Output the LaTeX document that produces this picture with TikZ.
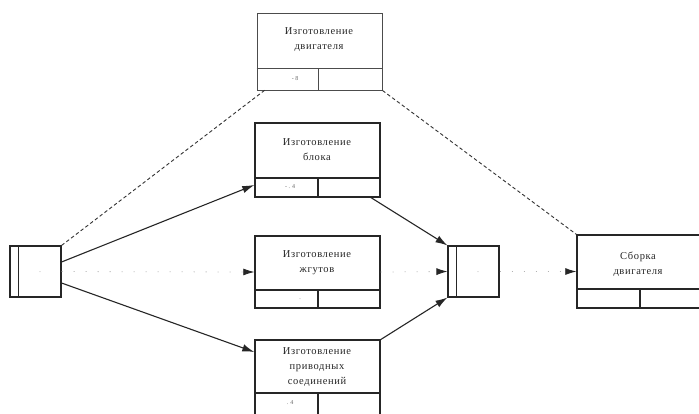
\documentclass[tikz,border=0pt]{standalone}
\usepackage{fontspec}
\setmainfont{Liberation Serif}
\usetikzlibrary{arrows.meta,calc}
\tikzset{
  taskbox/.style={draw=black!85, line width=1.4pt, inner sep=0pt, minimum width=125pt},
  eventbox/.style={draw=black!85, line width=1.1pt, inner sep=0pt, minimum width=51pt, minimum height=51pt},
  tasktext/.style={font=\fontsize{10.5}{15}\selectfont\addfontfeatures{LetterSpace=6}, text=black!85, align=center, inner sep=0pt},
  smalltext/.style={font=\fontsize{6}{7}\selectfont, text=black!60, inner sep=0pt},
  solidarrow/.style={draw=black!85, line width=1.1pt, -{Latex[length=12pt,width=7.5pt]}},
  dashedline/.style={draw=black!80, line width=0.9pt, dash pattern=on 3.5pt off 2.5pt},
  dottedarrow/.style={draw=black!30, line width=0.8pt, dash pattern=on 1pt off 11pt, -{Latex[length=11pt,width=7pt,black!85]}},
}
\begin{document}
\begin{tikzpicture}[x=1pt,y=-1pt]
\clip (0,0) rectangle (699,413);
\fill[white] (0,0) rectangle (699,413);

% task boxes
\node[taskbox, draw=black!70, line width=1pt, minimum height=77pt] (eng) at (319.5,51.5) {};
\node[taskbox, minimum height=74pt] (blk) at (317.5,160) {};
\node[taskbox, minimum height=72pt] (zht) at (317.5,272) {};
\node[taskbox, minimum height=78pt] (prv) at (317.5,379) {};
\node[taskbox, minimum width=150pt, minimum height=73pt] (asm) at (652,271.5) {};

% dividers
\draw[draw=black!70, line width=1pt] (eng.west |- 0,68) -- (eng.east |- 0,68);
\draw[draw=black!70, line width=1pt] (318,68) -- (318,90);
\draw[draw=black!85, line width=1.4pt] (blk.west |- 0,178) -- (blk.east |- 0,178);
\draw[draw=black!85, line width=1.4pt] (318,178) -- (318,197);
\draw[draw=black!85, line width=1.4pt] (zht.west |- 0,290) -- (zht.east |- 0,290);
\draw[draw=black!85, line width=1.4pt] (318,290) -- (318,308);
\draw[draw=black!85, line width=1.4pt] (prv.west |- 0,393) -- (prv.east |- 0,393);
\draw[draw=black!85, line width=1.4pt] (318,393) -- (318,418);
\draw[draw=black!85, line width=1.4pt] (asm.west |- 0,289) -- (699,289);
\draw[draw=black!85, line width=1.4pt] (640,289) -- (640,308);

% texts
\node[tasktext] (teng) at (319,40) {Изготовление\\двигателя};
\node[tasktext] (tblk) at (317,150) {Изготовление\\блока};
\node[tasktext] (tzht) at (317,263) {Изготовление\\жгутов};
\node[tasktext] (tprv) at (317,367) {Изготовление\\приводных\\соединений};
\node[tasktext] (tasm) at (638,264) {Сборка\\двигателя};

\node[smalltext] (neng) at (295,79) {- 8};
\node[smalltext] (nblk) at (290,187) {- . 4};
\node[smalltext] (nzht) at (300,299) {.};
\node[smalltext] (nprv) at (290,403) {. 4};

% events
\node[eventbox] (e1) at (35.5,271.5) {};
\draw[draw=black!85, line width=1pt] (18,246) -- (18,297);
\node[smalltext] (ne1) at (40,272) {.};
\node[eventbox] (e2) at (473.5,271.5) {};
\draw[draw=black!85, line width=1pt] (456,246) -- (456,297);
\node[smalltext] (ne2) at (478,272) {.};

% connectors
\draw[solidarrow] (e1.east |- 0,262) -- (blk.west |- 0,185);
\draw[solidarrow] (e1.east |- 0,283) -- (prv.west |- 0,352);
\draw[dashedline] (e1.north east) -- (265,90);
\draw[dottedarrow] (e1.east) -- (zht.west);
\draw[dashedline] (eng.south east) -- (asm.north west);
\draw[solidarrow] (370,197) -- (e2.north west);
\draw[solidarrow] (380,340) -- (e2.south west);
\draw[dottedarrow] (zht.east) -- (e2.west);
\draw[dottedarrow] (e2.east) -- (asm.west);
\end{tikzpicture}
\end{document}
